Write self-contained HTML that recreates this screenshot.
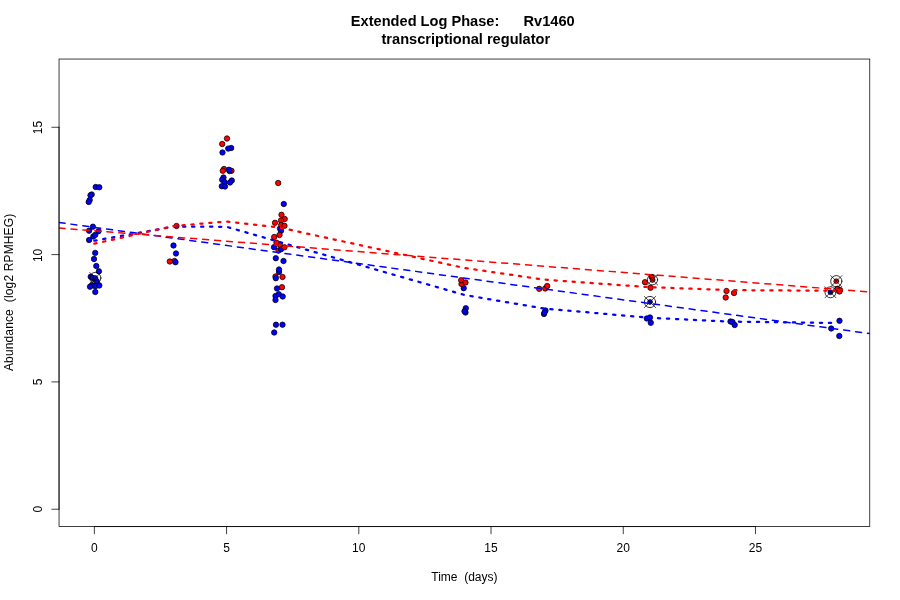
<!DOCTYPE html>
<html><head><meta charset="utf-8"><title>Extended Log Phase: Rv1460</title>
<style>html,body{margin:0;padding:0;background:#fff}svg{display:block}text{font-family:"Liberation Sans",Arial,Helvetica,sans-serif;fill:#000}</style></head><body>
<svg width="900" height="600" viewBox="0 0 900 600">
<rect x="0" y="0" width="900" height="600" fill="#fff"/>
<defs><clipPath id="c"><rect x="59.04" y="59.04" width="810.72" height="467.52"/></clipPath></defs>
<g clip-path="url(#c)">
<g stroke="#000" stroke-width="0.75">
<circle cx="278.5" cy="250.5" r="2.7" fill="#ff0000"/>
<circle cx="281.0" cy="249.3" r="2.7" fill="#0000ff"/>
<circle cx="279.7" cy="244.5" r="2.7" fill="#ff0000"/>
<circle cx="174.5" cy="261.0" r="2.7" fill="#ff0000"/>
<circle cx="175.5" cy="262.2" r="2.7" fill="#0000ff"/>
<circle cx="224.0" cy="169.0" r="2.7" fill="#ff0000"/>
<circle cx="231.5" cy="170.8" r="2.7" fill="#ff0000"/>
<circle cx="222.8" cy="170.8" r="2.7" fill="#ff0000"/>
<circle cx="229.5" cy="171.0" r="2.7" fill="#0000ff"/>
<circle cx="229.0" cy="169.8" r="2.7" fill="#0000ff"/>
<circle cx="275.5" cy="276.5" r="2.7" fill="#ff0000"/>
<circle cx="275.8" cy="278.2" r="2.7" fill="#0000ff"/>
<circle cx="95.7" cy="187.0" r="2.7" fill="#0000ff"/>
<circle cx="99.3" cy="187.3" r="2.7" fill="#0000ff"/>
<circle cx="91.7" cy="194.5" r="2.7" fill="#0000ff"/>
<circle cx="90.5" cy="195.3" r="2.7" fill="#0000ff"/>
<circle cx="89.7" cy="200.0" r="2.7" fill="#0000ff"/>
<circle cx="88.7" cy="202.0" r="2.7" fill="#0000ff"/>
<circle cx="92.9" cy="226.7" r="2.7" fill="#0000ff"/>
<circle cx="89.1" cy="230.7" r="2.7" fill="#0000ff"/>
<circle cx="98.5" cy="231.2" r="2.7" fill="#0000ff"/>
<circle cx="93.3" cy="236.5" r="2.7" fill="#0000ff"/>
<circle cx="95.2" cy="234.9" r="2.7" fill="#0000ff"/>
<circle cx="89.1" cy="240.0" r="2.7" fill="#0000ff"/>
<circle cx="95.2" cy="252.9" r="2.7" fill="#0000ff"/>
<circle cx="94.0" cy="259.0" r="2.7" fill="#0000ff"/>
<circle cx="96.3" cy="266.0" r="2.7" fill="#0000ff"/>
<circle cx="98.9" cy="271.3" r="2.7" fill="#0000ff"/>
<circle cx="90.7" cy="276.7" r="2.7" fill="#0000ff"/>
<circle cx="92.7" cy="278.0" r="2.7" fill="#0000ff"/>
<circle cx="94.7" cy="279.3" r="2.7" fill="#0000ff"/>
<circle cx="96.7" cy="281.3" r="2.7" fill="#0000ff"/>
<circle cx="92.0" cy="285.3" r="2.7" fill="#0000ff"/>
<circle cx="90.0" cy="286.7" r="2.7" fill="#0000ff"/>
<circle cx="95.3" cy="286.3" r="2.7" fill="#0000ff"/>
<circle cx="99.3" cy="285.5" r="2.7" fill="#0000ff"/>
<circle cx="95.3" cy="292.0" r="2.7" fill="#0000ff"/>
<circle cx="173.5" cy="245.5" r="2.7" fill="#0000ff"/>
<circle cx="176.0" cy="253.5" r="2.7" fill="#0000ff"/>
<circle cx="231.2" cy="148.0" r="2.7" fill="#0000ff"/>
<circle cx="228.2" cy="148.6" r="2.7" fill="#0000ff"/>
<circle cx="222.5" cy="152.5" r="2.7" fill="#0000ff"/>
<circle cx="223.5" cy="177.5" r="2.7" fill="#0000ff"/>
<circle cx="222.2" cy="179.8" r="2.7" fill="#0000ff"/>
<circle cx="231.8" cy="180.5" r="2.7" fill="#0000ff"/>
<circle cx="230.0" cy="182.5" r="2.7" fill="#0000ff"/>
<circle cx="224.5" cy="182.0" r="2.7" fill="#0000ff"/>
<circle cx="221.8" cy="186.2" r="2.7" fill="#0000ff"/>
<circle cx="225.0" cy="186.5" r="2.7" fill="#0000ff"/>
<circle cx="283.8" cy="204.0" r="2.7" fill="#0000ff"/>
<circle cx="280.0" cy="228.5" r="2.7" fill="#0000ff"/>
<circle cx="281.0" cy="230.8" r="2.7" fill="#0000ff"/>
<circle cx="274.0" cy="247.2" r="2.7" fill="#0000ff"/>
<circle cx="275.8" cy="258.2" r="2.7" fill="#0000ff"/>
<circle cx="283.5" cy="261.0" r="2.7" fill="#0000ff"/>
<circle cx="279.0" cy="272.0" r="2.7" fill="#0000ff"/>
<circle cx="279.0" cy="269.5" r="2.7" fill="#0000ff"/>
<circle cx="277.0" cy="288.5" r="2.7" fill="#0000ff"/>
<circle cx="275.5" cy="296.0" r="2.7" fill="#0000ff"/>
<circle cx="278.8" cy="294.2" r="2.7" fill="#0000ff"/>
<circle cx="282.7" cy="296.5" r="2.7" fill="#0000ff"/>
<circle cx="275.5" cy="300.0" r="2.7" fill="#0000ff"/>
<circle cx="276.0" cy="324.7" r="2.7" fill="#0000ff"/>
<circle cx="282.5" cy="324.7" r="2.7" fill="#0000ff"/>
<circle cx="274.2" cy="332.5" r="2.7" fill="#0000ff"/>
<circle cx="463.7" cy="288.2" r="2.7" fill="#0000ff"/>
<circle cx="465.8" cy="308.2" r="2.7" fill="#0000ff"/>
<circle cx="465.5" cy="312.5" r="2.7" fill="#0000ff"/>
<circle cx="464.5" cy="311.2" r="2.7" fill="#0000ff"/>
<circle cx="545.5" cy="310.5" r="2.7" fill="#0000ff"/>
<circle cx="544.0" cy="314.0" r="2.7" fill="#0000ff"/>
<circle cx="544.5" cy="312.5" r="2.7" fill="#0000ff"/>
<circle cx="646.8" cy="318.5" r="2.7" fill="#0000ff"/>
<circle cx="650.0" cy="317.5" r="2.7" fill="#0000ff"/>
<circle cx="650.8" cy="322.8" r="2.7" fill="#0000ff"/>
<circle cx="730.5" cy="321.5" r="2.7" fill="#0000ff"/>
<circle cx="732.5" cy="322.0" r="2.7" fill="#0000ff"/>
<circle cx="734.7" cy="325.0" r="2.7" fill="#0000ff"/>
<circle cx="839.5" cy="320.8" r="2.7" fill="#0000ff"/>
<circle cx="831.2" cy="328.5" r="2.7" fill="#0000ff"/>
<circle cx="839.3" cy="336.0" r="2.7" fill="#0000ff"/>
<circle cx="176.5" cy="226.0" r="2.7" fill="#ff0000"/>
<circle cx="169.8" cy="261.5" r="2.7" fill="#ff0000"/>
<circle cx="227.0" cy="138.5" r="2.7" fill="#ff0000"/>
<circle cx="222.2" cy="144.0" r="2.7" fill="#ff0000"/>
<circle cx="278.2" cy="183.0" r="2.7" fill="#ff0000"/>
<circle cx="281.5" cy="214.8" r="2.7" fill="#ff0000"/>
<circle cx="284.7" cy="219.0" r="2.7" fill="#ff0000"/>
<circle cx="281.0" cy="220.5" r="2.7" fill="#ff0000"/>
<circle cx="275.0" cy="222.8" r="2.7" fill="#ff0000"/>
<circle cx="281.2" cy="225.0" r="2.7" fill="#ff0000"/>
<circle cx="284.5" cy="225.8" r="2.7" fill="#ff0000"/>
<circle cx="279.5" cy="235.0" r="2.7" fill="#ff0000"/>
<circle cx="274.2" cy="237.0" r="2.7" fill="#ff0000"/>
<circle cx="282.5" cy="277.0" r="2.7" fill="#ff0000"/>
<circle cx="282.0" cy="287.2" r="2.7" fill="#ff0000"/>
<circle cx="461.5" cy="284.0" r="2.7" fill="#ff0000"/>
<circle cx="461.2" cy="280.2" r="2.7" fill="#ff0000"/>
<circle cx="465.5" cy="282.5" r="2.7" fill="#ff0000"/>
<circle cx="539.2" cy="288.8" r="2.7" fill="#ff0000"/>
<circle cx="545.2" cy="288.5" r="2.7" fill="#ff0000"/>
<circle cx="547.2" cy="286.0" r="2.7" fill="#ff0000"/>
<circle cx="645.0" cy="282.2" r="2.7" fill="#ff0000"/>
<circle cx="651.7" cy="277.0" r="2.7" fill="#ff0000"/>
<circle cx="650.5" cy="287.8" r="2.7" fill="#ff0000"/>
<circle cx="726.5" cy="291.0" r="2.7" fill="#ff0000"/>
<circle cx="734.0" cy="293.0" r="2.7" fill="#ff0000"/>
<circle cx="725.7" cy="297.5" r="2.7" fill="#ff0000"/>
<circle cx="837.5" cy="288.8" r="2.7" fill="#ff0000"/>
<circle cx="840.0" cy="290.0" r="2.7" fill="#ff0000"/>
<circle cx="839.5" cy="291.5" r="2.7" fill="#ff0000"/>
<circle cx="276.5" cy="242.7" r="2.7" fill="#ff0000"/>
<circle cx="284.5" cy="247.3" r="2.7" fill="#ff0000"/>
</g>
<g stroke="#000" fill="none" stroke-linecap="round" stroke-width="0.75">
<circle cx="652.5" cy="280.0" r="2.4" fill="#ff0000"/>
<circle cx="652.5" cy="279.8" r="5.1" stroke-width="0.8"/>
<path d="M647.4 274.7L657.6 284.9M647.4 284.9L657.6 274.7" stroke-width="0.7"/>
</g>
<g stroke="#000" fill="none" stroke-linecap="round" stroke-width="0.75">
<circle cx="650.0" cy="302.0" r="2.4" fill="#0000ff"/>
<circle cx="650.0" cy="302.0" r="5.6" stroke-width="0.8"/>
<path d="M644.4 296.4L655.6 307.6M644.4 307.6L655.6 296.4" stroke-width="0.7"/>
</g>
<g stroke="#000" fill="none" stroke-linecap="round" stroke-width="0.75">
<circle cx="836.3" cy="281.2" r="2.4" fill="#ff0000"/>
<circle cx="836.3" cy="281.2" r="5.6" stroke-width="0.8"/>
<path d="M830.7 275.6L841.9 286.8M830.7 286.8L841.9 275.6" stroke-width="0.7"/>
</g>
<g stroke="#000" fill="none" stroke-linecap="round" stroke-width="0.75">
<circle cx="830.5" cy="292.3" r="2.4" fill="#0000ff"/>
<circle cx="830.5" cy="292.3" r="5.5" stroke-width="0.8"/>
<path d="M825.0 286.8L836.0 297.8M825.0 297.8L836.0 286.8" stroke-width="0.7"/>
</g>
<g stroke="#000" fill="none" stroke-linecap="round" stroke-width="0.75">
<circle cx="95.3" cy="278.0" r="2.4" fill="#0000ff"/>
<circle cx="95.3" cy="278.0" r="5.6" stroke-width="0.8"/>
<path d="M89.7 272.4L100.9 283.6M89.7 283.6L100.9 272.4" stroke-width="0.7"/>
</g>
<g fill="none" stroke-linecap="round" stroke-linejoin="round">
<path d="M94.35 240.70L173.69 226.60L226.57 226.80L279.47 242.00L464.58 295.00L543.91 308.50L649.70 317.80L729.03 321.60L834.81 323.00" stroke="#0000ff" stroke-width="2.25" stroke-dasharray="2.25 6.75"/>
<path d="M94.35 243.70L173.69 226.00L226.57 221.50L279.47 227.50L464.58 268.00L543.91 279.60L649.70 287.20L729.03 290.10L834.81 290.80" stroke="#ff0000" stroke-width="2.25" stroke-dasharray="2.25 6.75"/>
<path d="M59.04 222.50L869.76 333.60" stroke="#0000ff" stroke-width="1.5" stroke-dasharray="6 6"/>
<path d="M59.04 228.00L869.76 291.90" stroke="#ff0000" stroke-width="1.5" stroke-dasharray="6 6"/>
</g>
</g>
<g stroke="#000" stroke-width="0.75" fill="none" stroke-linecap="round">
<rect x="59.04" y="59.04" width="810.72" height="467.52"/>
<path d="M94.35 526.56L755.48 526.56"/>
<path d="M94.35 526.56L94.35 533.76"/>
<path d="M226.57 526.56L226.57 533.76"/>
<path d="M358.80 526.56L358.80 533.76"/>
<path d="M491.02 526.56L491.02 533.76"/>
<path d="M623.25 526.56L623.25 533.76"/>
<path d="M755.48 526.56L755.48 533.76"/>
<path d="M59.04 509.24L59.04 127.28"/>
<path d="M59.04 509.24L51.84 509.24"/>
<path d="M59.04 381.92L51.84 381.92"/>
<path d="M59.04 254.60L51.84 254.60"/>
<path d="M59.04 127.28L51.84 127.28"/>
</g>
<g font-size="12" text-anchor="middle">
<text x="94.35" y="551.7">0</text>
<text x="226.57" y="551.7">5</text>
<text x="358.80" y="551.7">10</text>
<text x="491.02" y="551.7">15</text>
<text x="623.25" y="551.7">20</text>
<text x="755.48" y="551.7">25</text>
<text transform="translate(42.3 509.24) rotate(-90)">0</text>
<text transform="translate(42.3 381.92) rotate(-90)">5</text>
<text transform="translate(42.3 255.40) rotate(-90)">10</text>
<text transform="translate(42.3 127.48) rotate(-90)">15</text>
<text x="464.4" y="580.8" xml:space="preserve">Time  (days)</text>
<text transform="translate(12.6 292.35) rotate(-90)" letter-spacing="0.14" xml:space="preserve">Abundance  (log2 RPMHEG)</text>
</g>
<g font-size="14.6" font-weight="bold" text-anchor="middle">
<text x="462.8" y="25.8" xml:space="preserve">Extended Log Phase:      Rv1460</text>
<text x="465.85" y="43.7" xml:space="preserve">transcriptional regulator</text>
</g>
</svg></body></html>
